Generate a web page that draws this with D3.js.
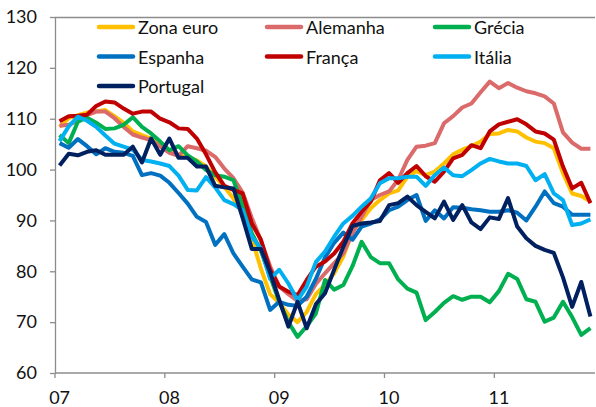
<!DOCTYPE html>
<html>
<head>
<meta charset="utf-8">
<script src="https://cdn.jsdelivr.net/npm/d3@7.9.0/dist/d3.min.js"></script>
<style>
  html, body { margin: 0; padding: 0; background: #fff; }
  svg { display: block; font-family: Lato, 'Open Sans', sans-serif; }
</style>
</head>
<body>
<svg id="chart" width="596" height="407"></svg>
<script>
// monthly index, Jan 2007 .. Nov 2011
const years = ['07', '08', '09', '10', '11'];
const months = d3.range(59);

const zonaEuro = [108.4, 110.1, 110.7, 111.2, 111.4, 111.7, 110.5, 109.2, 107.5, 106.8, 106.1, 104.8, 103.7, 102.9, 102.4, 101.8, 100.6, 98.6, 96.6, 94.3,
  91.5, 86.5, 80.5, 75.5, 73.8, 71.5, 70.0, 72.0, 75.5, 77.3, 79.6, 82.9, 87.8, 90.1, 92.4, 94.0, 95.3, 95.9, 98.6, 99.7,
  98.9, 99.6, 101.2, 103.0, 103.9, 104.6, 105.5, 107.0, 107.1, 107.8, 107.5, 106.3, 105.5, 105.2, 104.2, 99.3, 95.3, 94.8, 93.7];
const alemanha = [108.6, 108.8, 109.6, 110.7, 111.4, 111.4, 110.1, 108.4, 106.9, 106.3, 105.8, 104.5, 103.3, 102.7, 104.6, 104.2, 103.7, 102.5, 100.2, 98.3,
  95.5, 90.5, 86.0, 81.0, 77.0, 75.5, 74.2, 74.5, 77.5, 79.6, 81.6, 83.5, 87.5, 90.7, 94.0, 95.0, 95.7, 98.0, 101.9, 104.5,
  104.7, 105.2, 109.1, 110.5, 112.2, 113.0, 115.2, 117.3, 116.0, 117.0, 116.1, 115.4, 115.0, 114.4, 113.0, 107.3, 105.3, 104.1, 104.1];
const grecia = [106.8, 105.2, 109.4, 110.2, 109.2, 108.0, 108.1, 108.8, 110.3, 108.4, 107.1, 105.5, 103.8, 104.6, 102.8, 101.6, 99.9, 98.9, 98.6, 97.9,
  93.0, 87.5, 84.0, 79.0, 74.0, 70.0, 67.1, 69.2, 71.7, 78.3, 76.4, 77.3, 81.0, 85.8, 82.8, 81.6, 81.6, 78.4, 76.6, 75.8,
  70.4, 72.0, 73.8, 75.1, 74.4, 75.0, 75.0, 73.9, 76.1, 79.5, 78.5, 74.5, 74.0, 70.1, 70.9, 74.0, 71.0, 67.5, 68.8];
const espanha = [105.2, 104.3, 106.0, 104.6, 103.0, 104.2, 103.5, 103.3, 102.7, 98.9, 99.3, 98.8, 97.4, 95.4, 93.3, 90.7, 89.7, 85.2, 87.3, 83.5,
  80.9, 78.4, 77.8, 72.4, 74.0, 73.4, 73.2, 75.0, 78.5, 82.7, 85.6, 87.6, 86.2, 88.8, 89.4, 90.2, 92.0, 92.7, 94.0, 95.0,
  89.9, 92.0, 90.4, 92.6, 92.5, 92.2, 92.0, 91.7, 91.7, 92.0, 91.5, 90.0, 92.7, 95.7, 93.4, 92.7, 91.1, 91.1, 91.1];
const franca = [109.5, 110.5, 110.6, 110.8, 112.5, 113.4, 113.2, 112.0, 111.0, 111.4, 111.4, 110.0, 109.3, 108.1, 108.0, 106.1, 103.0, 99.5, 96.8, 96.0,
  95.3, 89.4, 86.2, 80.3, 77.0, 76.0, 75.3, 78.3, 80.9, 81.9, 83.5, 85.8, 89.4, 91.7, 93.7, 97.9, 99.3, 97.4, 99.3, 100.7,
  98.7, 97.6, 99.6, 102.2, 102.9, 104.8, 104.2, 107.5, 108.9, 109.4, 109.9, 108.9, 107.5, 107.1, 105.9, 100.6, 96.3, 97.4, 93.4];
const italia = [105.6, 108.5, 110.4, 109.6, 108.4, 106.7, 105.1, 104.5, 103.9, 101.9, 101.6, 101.2, 100.7, 98.8, 96.0, 95.9, 98.5, 96.5, 94.0, 93.2,
  92.0, 86.8, 84.5, 78.5, 80.3, 77.6, 74.3, 77.0, 81.8, 83.9, 86.8, 89.4, 90.9, 92.7, 94.3, 97.3, 98.3, 98.3, 98.6, 98.6,
  96.8, 98.9, 100.4, 98.9, 98.7, 99.9, 101.2, 102.1, 101.6, 101.2, 101.2, 100.7, 97.9, 99.1, 95.3, 94.0, 89.1, 89.4, 90.2];
const portugal = [100.8, 103.1, 102.8, 103.5, 103.8, 102.9, 102.9, 102.9, 104.5, 101.4, 106.1, 102.9, 106.1, 102.3, 102.3, 100.6, 100.6, 96.8, 96.5, 96.3,
  90.5, 84.4, 84.4, 79.8, 74.4, 69.1, 74.0, 68.8, 73.5, 75.7, 80.3, 84.8, 88.9, 89.4, 89.6, 89.9, 93.0, 93.4, 94.7, 93.0,
  91.7, 90.4, 93.7, 90.1, 93.0, 89.6, 88.3, 90.6, 90.3, 94.4, 88.8, 86.5, 85.0, 84.2, 83.6, 78.8, 73.0, 77.9, 71.1];

const yTicks = [60, 70, 80, 90, 100, 110, 120, 130];

const series = [
  { name: 'Zona euro', values: zonaEuro, color: '#ffc000' },
  { name: 'Alemanha', values: alemanha, color: '#db6b6b' },
  { name: 'Grécia', values: grecia, color: '#00b050' },
  { name: 'Espanha', values: espanha, color: '#0070c0' },
  { name: 'França', values: franca, color: '#c00000' },
  { name: 'Itália', values: italia, color: '#00b0f0' },
  { name: 'Portugal', values: portugal, color: '#002060' }
];

const plotLeft = 55, plotRight = 595, plotTop = 17, plotBottom = 373;
const axisColor = '#8c8c8c';

const svg = d3.select('#chart');

const x = d3.scaleBand().domain(months).range([plotLeft, plotRight]).padding(0);
const y = d3.scaleLinear().domain([60, 130]).range([plotBottom, plotTop]);
const cx = (i) => x(i) + x.bandwidth() / 2;

// plot frame top line
svg.append('line')
  .attr('x1', plotLeft).attr('x2', plotRight)
  .attr('y1', plotTop + 0.5).attr('y2', plotTop + 0.5)
  .attr('stroke', axisColor).attr('stroke-width', 1.3);

// y axis
const yAxis = svg.append('g')
  .attr('transform', `translate(${plotLeft},0)`)
  .call(d3.axisLeft(y).tickValues(yTicks).tickSize(5).tickSizeOuter(0).tickPadding(13));
yAxis.select('.domain').attr('stroke', axisColor).attr('stroke-width', 1.3);
yAxis.selectAll('.tick line').attr('stroke', axisColor).attr('stroke-width', 1.3);
yAxis.selectAll('.tick text')
  .attr('fill', '#111')
  .style('font-size', '18px')
  .style('font-family', 'Lato, sans-serif');

// x axis line and year ticks at band boundaries
svg.append('line')
  .attr('x1', plotLeft).attr('x2', plotRight)
  .attr('y1', plotBottom).attr('y2', plotBottom)
  .attr('stroke', axisColor).attr('stroke-width', 1.3);

const janIdx = years.map((_, k) => k * 12);
svg.selectAll('.xtick')
  .data(janIdx)
  .join('line')
  .attr('class', 'xtick')
  .attr('x1', (i) => x(i)).attr('x2', (i) => x(i))
  .attr('y1', plotBottom).attr('y2', plotBottom + 5)
  .attr('stroke', axisColor).attr('stroke-width', 1.3);

svg.selectAll('.xlabel')
  .data(janIdx)
  .join('text')
  .attr('class', 'xlabel')
  .attr('x', (i) => cx(i))
  .attr('y', 404)
  .attr('text-anchor', 'middle')
  .attr('fill', '#111')
  .style('font-size', '18px')
  .text((_, k) => years[k]);

// lines
const line = d3.line()
  .x((d, i) => cx(i))
  .y((d) => y(d));

svg.selectAll('.serie')
  .data(series)
  .join('path')
  .attr('class', 'serie')
  .attr('d', (s) => line(s.values))
  .attr('fill', 'none')
  .attr('stroke', (s) => s.color)
  .attr('stroke-width', 4)
  .attr('stroke-linejoin', 'round');

// legend, three per row
const legend = svg.append('g');
const items = legend.selectAll('g')
  .data(series)
  .join('g')
  .attr('transform', (_, i) => `translate(${97 + (i % 3) * 168},${27 + Math.floor(i / 3) * 29.5})`);

items.append('line')
  .attr('x1', 2).attr('x2', 36)
  .attr('stroke', (s) => s.color)
  .attr('stroke-width', 4.5)
  .attr('stroke-linecap', 'round');

items.append('text')
  .attr('x', 41)
  .attr('y', 7)
  .attr('fill', '#111')
  .style('font-size', '18px')
  .text((s) => s.name);
</script>
</body>
</html>
